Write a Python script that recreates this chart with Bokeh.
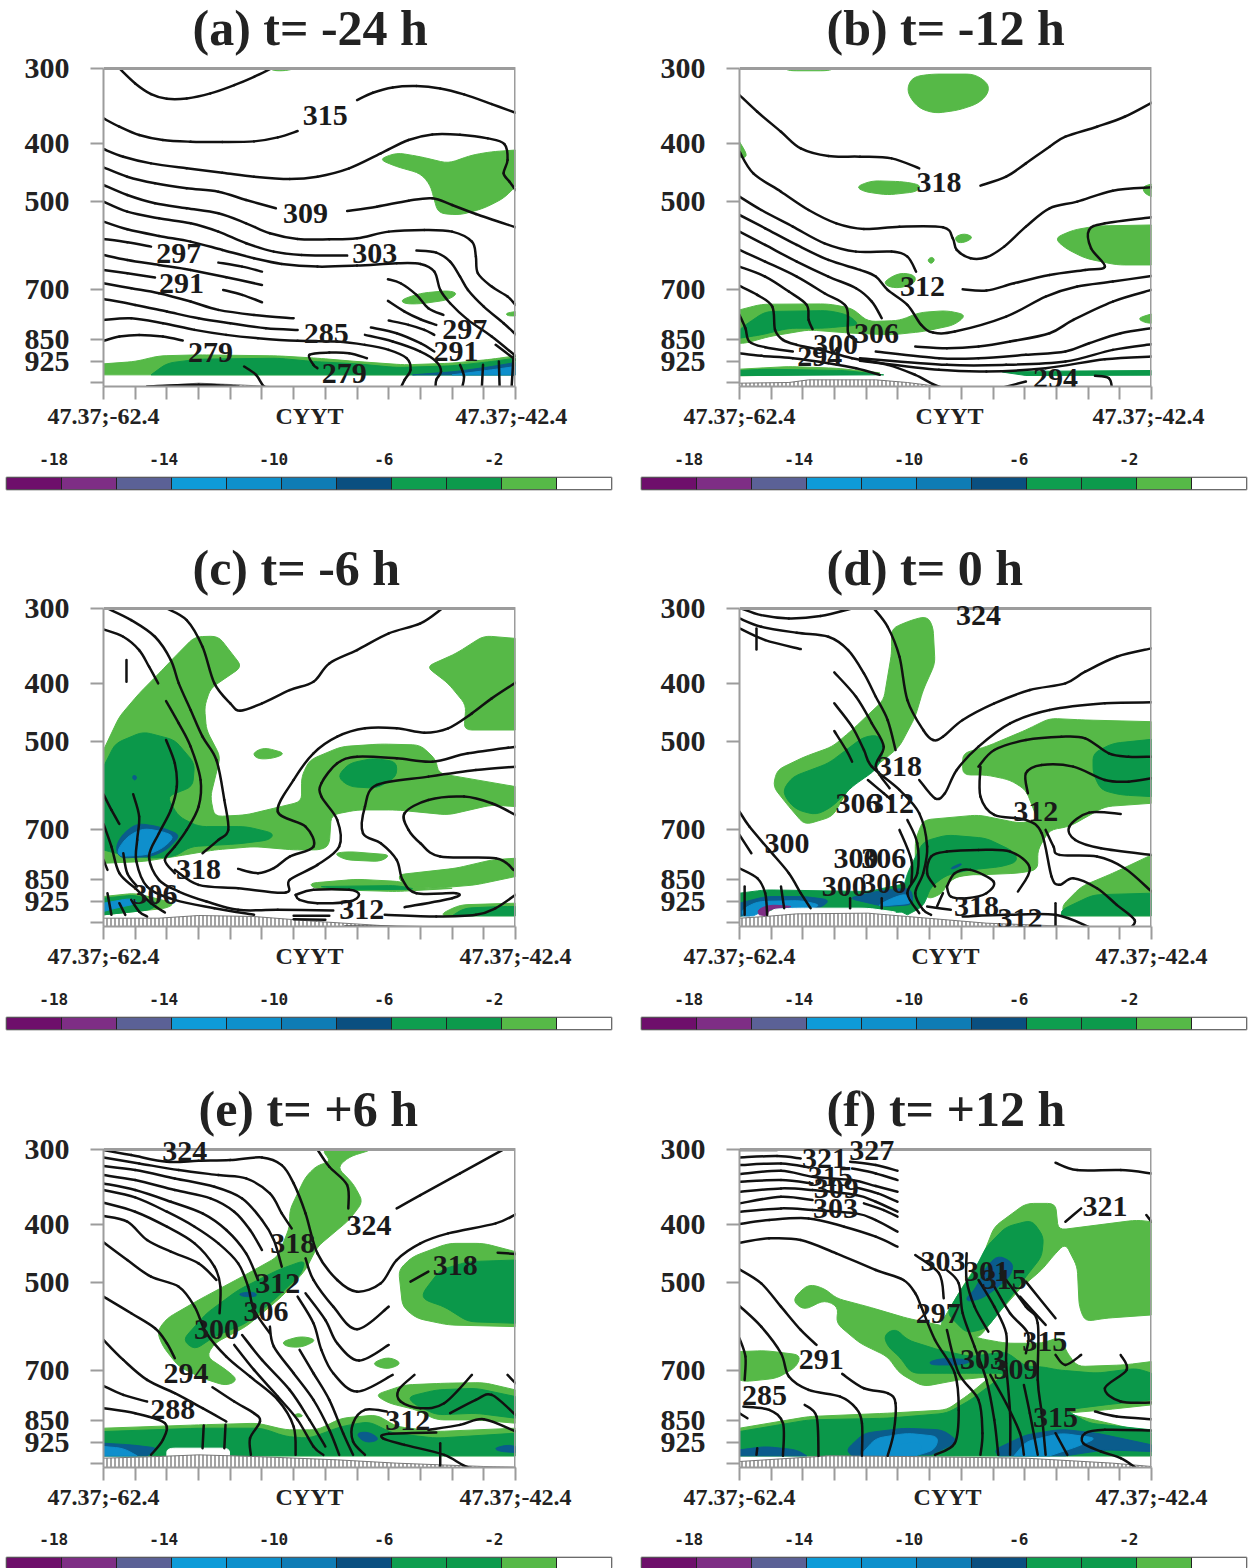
import math
from bokeh.plotting import figure
from bokeh.layouts import column, row
from bokeh.models import FixedTicker, Range1d, BasicTickFormatter, Label
from bokeh.embed import file_html
from bokeh.resources import INLINE

# Digitised field outlines: (along-section, vertical), converted to lon/hPa below.
TITLES = ["(a) t= -24 h", "(b) t= -12 h", "(c) t= -6 h", "(d) t= 0 h", "(e) t= +6 h", "(f) t= +12 h"]
TITLE_OFFSETS = [89, 87, 89, 87, 95, 87]
PRESSURE_TICKS = [300, 400, 500, 700, 850, 925, 1000]
COLOR_LEVELS = [-20, -18, -16, -14, -12, -10, -8, -6, -4, -2, 0, 2]
COLOR_BANDS = ["#6E0F6B", "#7E2E85", "#5B6196", "#0E9BD8", "#0E90CC", "#0F7CB5", "#0A4F80",
               "#0E9E4F", "#0C9A4C", "#56B947", "#FFFFFF"]
COLOR_TICKS = [-18, -14, -10, -6, -2]

A_LIGHT = [
    [(955,478),(1000,458),(1060,470),(1130,490),(1190,465),(1240,455),(1300,450),(1300,560),(1270,595),(1220,625),(1160,645),(1105,640),(1095,600),(1085,555),(1060,520),(1000,500)],
    [(680,205),(745,205),(720,212),(690,212)],
    [(1010,900),(1060,880),(1130,872),(1155,880),(1130,900),(1060,912),(1020,912)],
    [(1275,940),(1300,935),(1300,948),(1280,948)],
    [(260,1092),(340,1085),(400,1068),(500,1065),(700,1068),(800,1075),(900,1085),(1020,1095),(1140,1090),(1240,1078),(1300,1068),(1300,1125),(260,1125)],
]
A_GREEN = [[(380,1125),(420,1090),(500,1078),(700,1075),(790,1085),(900,1092),(1000,1103),(1140,1098),(1240,1085),(1300,1075),(1300,1125)]]
A_NAVY = [[(1040,1125),(1150,1115),(1240,1100),(1300,1088),(1300,1125)]]
A_BLUE = [[(1140,1125),(1240,1110),(1300,1100),(1300,1125)]]
A_WHITE = []
A_TERRAIN = [(370,1160),(500,1150),(600,1155),(680,1160)]
A_LINES = [
    [(300,205),(340,250),(380,282),(420,296),(470,295),(530,280),(590,255),(640,230),(680,207)],
    [(900,300),(940,278),(990,262),(1050,258),(1110,265),(1170,283),(1240,312),(1300,338)],
    [(260,355),(300,380),(350,405),(410,420),(480,425),(560,426),(640,424),(700,412),(750,393)],
    [(260,447),(310,470),(380,490),(470,505),(560,518),(640,530),(730,537),(800,530),(880,505),(960,460),(1030,420),(1090,403),(1160,404),(1230,415),(1272,432),(1280,480),(1270,520),(1285,545),(1300,570)],
    [(260,502),(320,530),(390,550),(470,565),(550,575),(620,600),(695,625)],
    [(875,633),(950,620),(1030,602),(1090,595),(1140,615),(1200,642),(1300,682)],
    [(260,555),(320,585),(390,610),(470,625),(550,640),(620,670),(680,700),(750,717),(830,718),(900,715),(980,695),(1070,690),(1140,695),(1190,725),(1200,770),(1205,820),(1240,860),(1280,890),(1300,915)],
    [(260,605),(320,635),(400,655),(480,670),(550,695),(620,730),(690,755),(760,765),(875,767)],
    [(1050,752),(1100,758),(1135,785),(1160,830),(1180,870),(1220,920),(1270,970),(1300,1003)],
    [(260,665),(320,688),(400,708),(480,725),(560,750),(640,775),(710,792),(800,800),(900,797),(1000,790),(1060,792),(1095,815),(1110,870),(1135,910),(1180,960),(1240,1010),(1300,1068)],
    [(260,717),(320,727),(380,740)],
    [(550,788),(610,800),(660,815)],
    [(260,765),(320,780),(400,795),(480,810),(570,832),(660,855)],
    [(260,810),(320,820),(390,833)],
    [(562,870),(610,885),(660,907)],
    [(260,850),(330,865),(400,880),(480,905),(550,930),(640,945),(740,955)],
    [(260,897),(340,915),(420,935),(500,955),(580,970),(670,985),(750,990)],
    [(260,960),(330,955),(410,970),(490,990),(570,1005),(650,1015),(750,1023),(850,1025),(920,1035),(980,1050),(1025,1075),(1035,1110),(1020,1140),(1010,1165)],
    [(260,1023),(300,1010),(350,1005),(410,1010),(460,1022)],
    [(978,838),(1010,850),(1050,885),(1080,925),(1118,945)],
    [(978,903),(1020,935),(1060,958),(1100,975)],
    [(980,962),(1030,975),(1070,990),(1095,1005)],
    [(935,983),(1000,1000),(1060,1030),(1095,1055)],
    [(920,1005),(990,1025),(1060,1055),(1100,1085),(1112,1115),(1100,1140),(1098,1165)],
    [(1250,1035),(1300,1080)],
    [(1165,1165),(1170,1130),(1160,1095)],
    [(1215,1165),(1218,1095)],
    [(1260,1165),(1258,1085)],
    [(1290,1165),(1295,1070)],
    [(800,1105),(790,1095),(780,1065),(830,1058),(880,1060),(925,1075)],
    [(615,1100),(645,1125),(665,1160),(685,1162)],
    [(370,1160),(500,1155),(600,1160)],
]
A_LABELS = [("315",820,345),("309",770,640),("297",450,762),("303",945,762),("291",457,850),("285",822,1000),("297",1172,990),("291",1150,1055),("279",530,1058),("279",868,1122)]

B_LIGHT = [
    [(700,260),(715,230),(760,222),(870,222),(905,250),(905,280),(880,310),(830,330),(770,340),(730,325),(705,290)],
    [(390,205),(515,205),(500,212),(400,212)],
    [(275,425),(295,465),(285,475),(275,470)],
    [(570,560),(610,542),(690,545),(735,555),(725,575),(650,585),(590,575)],
    [(820,710),(845,700),(868,712),(845,728),(825,728)],
    [(750,780),(762,770),(770,780),(760,793)],
    [(640,845),(680,818),(720,825),(720,850),(680,865),(650,860)],
    [(1072,715),(1120,690),(1180,678),(1318,675),(1318,795),(1230,795),(1150,775),(1100,745)],
    [(1295,560),(1318,552),(1318,590),(1300,580)],
    [(1282,955),(1318,942),(1318,970),(1300,968)],
    [(275,930),(330,913),(500,912),(560,925),(600,965),(680,962),(730,938),(800,932),(850,945),(820,975),(740,995),(660,1005),(560,1000),(450,990),(350,1010),(290,1030),(275,1030)],
    [(275,1108),(400,1100),(520,1105),(640,1120),(275,1128)],
]
B_GREEN = [
    [(290,975),(340,935),(500,932),(550,945),(580,975),(490,985),(400,985),(330,1005),(275,1015),(275,990)],
    [(275,1112),(340,1108),(540,1112),(640,1125),(275,1127)],
    [(930,1115),(1318,1112),(1318,1126),(1000,1127)],
]
B_NAVY = []
B_BLUE = []
B_WHITE = []
B_TERRAIN = [(275,1150),(400,1148),(450,1140),(620,1140),(700,1148),(780,1160)]
B_LINES = [
    [(275,285),(320,335),(380,395),(430,445),(500,468),(580,470),(660,475),(730,505)],
    [(885,557),(950,530),(1000,490),(1060,440),(1100,410),(1180,380),(1250,350),(1318,308)],
    [(275,455),(310,520),(380,575),(450,630),(520,670),(590,687),(680,680),(790,682),(815,715),(825,750),(860,775),(900,772),(945,740),(1000,680),(1060,625),(1130,605),(1220,572),(1318,562)],
    [(275,590),(330,630),(410,680),(490,730),(570,755),(660,755),(700,770),(722,815)],
    [(275,645),(340,685),(420,735),(500,780),(580,810),(620,830),(650,870),(700,915),(735,975),(765,998),(820,995),(950,950),(1050,890),(1130,860),(1220,845),(1318,828)],
    [(840,868),(900,872),(970,850),(1060,825),(1150,810),(1200,800),(1165,745),(1160,690),(1200,670),(1318,652)],
    [(275,695),(340,735),(420,785),(500,830),(570,865),(610,905),(635,955)],
    [(275,750),(340,785),(420,830),(490,880),(545,920),(550,1000),(570,1020)],
    [(275,800),(340,830),(400,875),(445,915),(450,960),(460,988)],
    [(275,858),(320,885),(358,920),(365,990),(385,1020),(420,1035),(480,1050),(560,1075),(650,1095),(720,1125),(785,1162),(860,1162)],
    [(275,945),(290,985),(300,1025),(340,1042),(410,1055)],
    [(275,1060),(330,1068),(410,1075),(500,1090),(570,1105),(630,1125)],
    [(1318,870),(1220,905),(1120,960),(1060,1000),(960,1025),(880,1040),(800,1045),(720,1040)],
    [(1318,985),(1240,1000),(1160,1030),(1100,1055),(1000,1065),(880,1075),(780,1075),(620,1055)],
    [(1318,1033),(1220,1050),(1100,1085),(950,1095),(800,1095),(580,1075)],
    [(1318,1070),(1200,1078),(1050,1105),(900,1115),(780,1110),(580,1083)],
    [(945,1162),(1000,1145)],
    [(1175,1128),(1210,1135),(1218,1165)],
]
B_LABELS = [("318",780,548),("312",738,860),("306",622,1000),("300",518,1035),("294",478,1070),("294",1075,1135)]

C_LIGHT = [
    [(260,630),(300,530),(350,460),(400,400),(440,350),(490,290),(550,288),(610,380),(530,445),(515,500),(520,570),(555,650),(530,770),(540,830),(620,825),(690,805),(760,785),(760,710),(780,660),(860,620),(960,612),(1060,615),(1100,660),(1105,700),(1300,740),(1300,800),(1240,795),(1130,825),(1000,810),(900,810),(835,825),(830,915),(810,930),(740,930),(640,920),(540,930),(440,950),(360,965),(260,970)],
    [(1075,380),(1150,340),(1220,287),(1300,295),(1300,570),(1170,570),(1175,495),(1130,430)],
    [(635,640),(665,622),(720,640),(690,655),(650,658)],
    [(840,940),(880,935),(985,945),(960,965),(870,960)],
    [(1000,1005),(1150,985),(1240,960),(1300,955),(1300,1010),(1200,1035),(1100,1045),(1020,1040)],
    [(780,1030),(900,1018),(1010,1025),(1060,1045),(1150,1045),(1000,1055),(850,1050),(790,1045)],
    [(1115,1120),(1160,1095),(1300,1090),(1300,1128),(1120,1128)],
    [(260,1070),(340,1060),(440,1090),(420,1105),(260,1125)],
]
C_GREEN = [
    [(260,680),(290,610),(360,575),(440,600),(490,670),(485,740),(420,770),(450,830),(500,860),(620,860),(690,880),(680,900),(600,912),(480,920),(440,950),(380,955),(290,940),(260,930)],
    [(850,710),(880,670),(940,655),(1000,665),(1000,710),(950,745),(880,740)],
    [(1140,1128),(1170,1105),(1260,1100),(1300,1100),(1300,1128)],
    [(260,1075),(340,1065),(400,1090),(380,1110),(260,1125)],
    [(800,1040),(1000,1037),(1050,1048),(900,1050)],
]
C_NAVY = [
    [(290,920),(310,880),(345,850),(400,860),(455,885),(420,930),(380,950),(300,955)],
    [(335,705),(345,710),(340,722),(333,715)],
]
C_BLUE = [
    [(295,930),(320,890),(360,865),(410,875),(440,890),(410,925),(370,945),(300,950)],
    [(260,1090),(330,1075),(350,1090),(290,1105),(260,1115)],
]
C_WHITE = []
C_TERRAIN = [(260,1135),(400,1135),(500,1127),(640,1130),(800,1145),(1000,1160)]
C_LINES = [
    [(270,205),(330,240),(390,290),(430,360),(450,430),(480,510),(510,590),(545,660),(565,780),(575,870),(550,900),(510,940)],
    [(420,205),(470,240),(510,320),(540,430),(580,490),(605,512),(660,490),(730,450),(790,425),(830,370),(900,330),(980,280),(1060,250),(1115,205)],
    [(260,268),(310,290),(350,330),(375,380),(398,430)],
    [(318,360),(318,425)],
    [(418,483),(450,550),(480,620),(505,720),(500,800),(470,870),(440,920),(415,960),(440,1000)],
    [(418,600),(440,670),(445,740),(430,810),(400,880),(375,950),(400,1020),(450,1055),(520,1085),(600,1110),(700,1110),(840,1112)],
    [(335,763),(350,830),(345,900),(343,965),(370,1040),(440,1080),(540,1105),(640,1125)],
    [(260,763),(280,810),(300,852)],
    [(260,852),(280,920),(300,1000),(340,1045),(380,1090),(415,1118)],
    [(260,960),(270,990)],
    [(310,940),(320,1000),(345,1040)],
    [(600,987),(650,1000),(690,985),(730,950),(790,920),(770,860),(700,815),(740,720),(790,640),(850,590),(920,565),(1000,565),(1070,578),(1130,565),(1190,520),(1240,475),(1300,428)],
    [(440,990),(500,1035),(600,1045),(720,1058),(730,1020),(800,975),(855,920),(850,840),(810,770),(810,730),(850,670),(900,650),(1000,655),(1090,665),(1180,640),(1300,620)],
    [(1300,680),(1200,690),(1080,710),(950,735),(920,800),(915,880),(960,910),(1000,960),(1015,1020),(1050,1060),(1150,1060),(1140,1075),(1020,1102)],
    [(1300,825),(1240,790),(1170,770),(1080,780),(1020,820),(1030,870),(1060,910),(1110,950),(1250,955),(1295,990)],
    [(745,1065),(790,1050),(880,1050),(905,1065),(880,1085),(800,1090),(755,1080),(745,1065)],
    [(740,1128),(830,1128)],
    [(740,1138),(820,1140)],
    [(970,1125),(1100,1130),(1200,1125),(1250,1105),(1300,1065)],
    [(330,1080),(350,1115),(370,1130)],
    [(270,1060),(280,1125)],
    [(300,1090),(315,1125)],
    [(870,1160),(1070,1162)],
]
C_LABELS = [("318",500,988),("306",390,1065),("312",912,1108)]

D_LIGHT = [
    [(660,265),(710,240),(750,228),(765,260),(770,370),(740,450),(720,530),(680,620),(640,660),(560,730),(510,830),(440,855),(400,800),(360,740),(370,690),(440,650),(510,620),(560,570),(640,480),(660,340)],
    [(840,640),(900,620),(1000,570),(1060,535),(1150,540),(1318,545),(1318,790),(1200,800),(1110,860),(1060,870),(1030,930),(1030,990),(980,1000),(880,1005),(830,1010),(800,1030),(790,1060),(750,1080),(720,1000),(720,900),(740,840),(880,825),(985,850),(1030,840),(1000,750),(960,720),(900,705),(840,705)],
    [(1090,1100),(1140,1040),(1220,1000),(1318,945),(1318,1128),(1100,1128)],
]
D_GREEN = [
    [(385,750),(410,710),(500,670),(590,590),(630,585),(640,640),(620,690),(560,740),(510,800),(470,825),(420,810),(395,780)],
    [(1170,640),(1220,610),(1318,598),(1318,770),(1240,765),(1190,750),(1170,700)],
    [(740,905),(800,885),(900,895),(970,935),(980,965),(940,980),(860,990),(800,1005),(760,1040),(740,1100),(700,1125),(675,1110),(700,1000)],
    [(275,1060),(340,1050),(600,1055),(700,1030),(730,1050),(730,1110),(680,1118),(500,1110),(350,1110),(275,1130)],
    [(1090,1110),(1170,1065),(1318,1060),(1318,1128),(1090,1128)],
]
D_NAVY = [
    [(550,1075),(640,1050),(710,1045),(715,1095),(640,1100)],
    [(275,1090),(340,1070),(440,1070),(505,1080),(480,1105),(350,1105),(300,1128),(275,1128)],
    [(808,985),(835,970),(838,975),(815,988)],
]
D_BLUE = [
    [(280,1110),(320,1085),(430,1082),(480,1095),(460,1105),(350,1105),(310,1128),(285,1128)],
    [(620,1100),(660,1075),(700,1060),(715,1090)],
]
D_WHITE = [
    [(355,1108),(420,1105),(600,1105),(680,1118),(420,1122),(355,1128)],
    [(800,1040),(820,1015),(880,1005),(918,1025),(895,1060),(850,1075),(810,1070)],
]
D_PURPLE = [[(320,1110),(350,1095),(415,1100),(350,1108),(345,1128),(325,1125)]]
D_TERRAIN = [(275,1135),(340,1130),(420,1122),(600,1120),(700,1130),(900,1150),(1160,1162)]
D_LINES = [
    [(280,205),(330,225),(400,235),(480,228),(560,205)],
    [(275,235),(330,260),(420,278),(500,290),(550,330),(590,400),(620,470),(650,540),(670,630)],
    [(615,205),(650,260),(680,350),(700,480),(740,570),(765,600),(790,590),(840,540),(920,490),(1010,450),(1100,430),(1150,395),(1230,350),(1318,325)],
    [(275,265),(340,300),(430,327)],
    [(318,265),(318,328)],
    [(515,397),(570,470),(610,550),(640,620),(620,680),(655,745)],
    [(515,490),(560,560),(590,630),(610,680),(680,750),(730,820),(750,920),(740,1000),(720,1060),(740,1110),(760,1125)],
    [(515,573),(545,630),(560,665)],
    [(600,720),(640,760),(660,780)],
    [(730,720),(770,775),(795,760),(825,690),(880,620),(960,550),(1060,510),(1200,490),(1318,487)],
    [(275,815),(300,860),(350,930),(400,1000),(430,1060),(455,1105)],
    [(275,885),(305,940)],
    [(275,985),(320,1015),(340,1060),(345,1125)],
    [(288,1040),(288,1125)],
    [(380,1040),(388,1105)],
    [(555,1075),(555,1105)],
    [(635,1075),(635,1105)],
    [(880,680),(920,630),(1000,600),(1090,590),(1150,595),(1210,640),(1260,650),(1318,650)],
    [(1005,760),(1000,700),(1040,675),(1120,680),(1200,720),(1260,725),(1318,715)],
    [(885,680),(885,770),(920,825),(1000,840),(1040,880),(1065,1010),(1085,1035),(1120,1015),(1180,1045),(1230,1095),(1275,1140),(1265,1165)],
    [(1240,822),(1160,818),(1110,860),(1125,900),(1190,925),(1318,945)],
    [(1050,870),(1070,920),(1085,945),(1180,950),(1250,985),(1318,1055)],
    [(680,870),(710,960),(710,1030)],
    [(700,840),(725,910),(725,1000),(700,1060),(730,1120)],
    [(770,1040),(750,1000),(760,950),(800,935),(880,930),(960,935),(1010,985),(980,1055)],
    [(800,1040),(820,1000),(860,990),(918,1025),(900,1060),(850,1075),(810,1070),(800,1040)],
    [(750,1100),(810,1110)],
    [(840,1130),(950,1125),(1075,1125),(1160,1162)],
    [(1075,1090),(1075,1165)],
    [(790,1060),(775,1100)],
]
D_LABELS = [("324",880,225),("318",680,680),("306",575,790),("312",660,790),("312",1025,815),("300",395,910),("300",570,955),("306",640,955),("300",540,1040),("306",640,1030),("318",875,1100),("312",985,1135)]

E_LIGHT = [
    [(810,208),(940,208),(880,230),(850,262),(890,310),(915,365),(880,420),(800,500),(770,570),(710,650),(620,740),(540,790),(520,830),(570,870),(600,900),(570,918),(510,895),(450,860),(410,800),(395,755),(420,715),(500,660),(610,590),(700,530),(730,440),(730,390),(770,290),(800,255),(835,245)],
    [(1005,570),(1040,530),(1130,490),(1220,490),(1300,515),(1300,740),(1130,735),(1050,715),(1015,680)],
    [(710,785),(760,768),(800,780),(760,803),(720,800)],
    [(940,848),(980,830),(1015,850),(980,868),(950,860)],
    [(945,945),(1020,915),(1120,910),(1220,908),(1300,930),(1300,1030),(1200,1020),(1100,1020),(1050,990),(980,970)],
    [(740,1005),(755,1000),(765,1010),(745,1012)],
    [(260,1045),(500,1035),(650,1030),(720,1050),(800,1050),(860,1015),(950,1005),(1000,1040),(1100,1055),(1300,1045),(1300,1128),(260,1128)],
]
E_GREEN = [
    [(460,780),(520,700),(600,630),(700,570),(770,540),(760,580),(700,650),(620,730),(540,770),(490,810)],
    [(1065,640),(1110,570),(1180,545),(1300,540),(1300,730),(1180,725),(1120,680),(1070,660)],
    [(1030,950),(1100,930),(1200,925),(1300,950),(1300,1015),(1200,1000),(1100,1005),(1040,970)],
    [(260,1055),(500,1045),(660,1045),(720,1070),(780,1075),(860,1040),(930,1025),(990,1060),(1100,1075),(1300,1060),(1300,1128),(260,1128)],
]
E_NAVY = [
    [(600,640),(640,635),(650,650),(610,650)],
    [(895,1060),(930,1055),(960,1080),(920,1090)],
    [(260,1090),(330,1095),(400,1105),(370,1128),(260,1128)],
    [(1245,1105),(1280,1095),(1300,1100),(1300,1118),(1260,1115)],
]
E_BLUE = [[(260,1100),(310,1105),(345,1128),(260,1128)]]
E_WHITE = [[(420,1105),(578,1105),(578,1128),(420,1128)]]
E_TERRAIN = [(260,1135),(400,1130),(500,1125),(640,1130),(850,1140),(1000,1150),(1220,1160),(1300,1162)]
E_LINES = [
    [(260,210),(330,225),(420,245),(500,242),(580,240),(660,232),(710,255),(740,310),(770,400),(800,520),(850,600),(900,635),(960,610),(1000,540),(1060,490),(1130,460),(1250,430),(1300,403)],
    [(1000,385),(1060,345),(1160,280),(1270,208)],
    [(800,208),(830,260),(875,315),(878,385)],
    [(260,232),(350,250),(450,270),(550,285),(620,295),(680,340),(710,400),(735,445)],
    [(260,258),(340,270),(440,295),(540,320),(610,355),(660,420),(690,480),(710,560)],
    [(260,285),(340,300),(440,330),(530,355),(590,395),(630,450),(660,510)],
    [(260,310),(340,330),(430,365),(510,400),(570,450),(620,520),(650,600)],
    [(260,330),(340,352),(420,395),(490,440),(550,490),(600,550),(625,620),(640,690),(680,760)],
    [(260,368),(340,395),(420,440),(490,490),(540,560),(555,620),(553,700)],
    [(260,408),(320,425),(370,480),(430,515),(500,550),(545,600)],
    [(260,487),(320,540),(380,590),(450,620),(490,680),(520,760),(570,830),(630,890),(700,960),(740,1040),(745,1125)],
    [(260,650),(330,700),(390,745),(420,790),(440,835)],
    [(260,780),(310,840),(370,900),(440,940),(510,985),(570,1025)],
    [(260,918),(310,945),(370,965)],
    [(260,985),(340,1000),(415,1030),(410,1080),(380,1125)],
    [(535,922),(590,965),(640,1000),(655,1025),(630,1075),(632,1125)],
    [(513,1037),(510,1105)],
    [(568,1035),(565,1105)],
    [(590,795),(640,870),(700,950),(750,1020),(790,1100),(815,1125)],
    [(610,765),(660,840),(730,930),(780,1020),(820,1100)],
    [(680,740),(690,800),(740,880),(790,960),(830,1050),(855,1125)],
    [(750,650),(790,730),(810,810),(840,880),(900,935),(990,885)],
    [(770,535),(790,600),(840,680),(900,748),(980,680)],
    [(770,640),(820,720),(850,790),(905,842),(980,795)],
    [(755,810),(790,880),(830,960),(865,1060),(890,1125)],
    [(975,995),(920,990),(890,1030),(890,1085),(920,1125)],
    [(1045,885),(1005,930),(1010,965),(1060,985),(1120,970),(1190,885)],
    [(1135,1000),(1200,960),(1240,945),(1300,1005)],
    [(1280,885),(1300,910)],
    [(1080,1050),(1160,1035),(1220,1018),(1300,1055)],
    [(1100,1058),(980,1062),(965,1075),(1020,1095),(1120,1125),(1190,1165),(1300,1165)],
    [(1110,1090),(1110,1165)],
    [(1255,518),(1300,522)],
    [(1035,605),(1080,575)],
]
E_LABELS = [("324",465,215),("318",738,490),("324",930,435),("318",1148,555),("312",700,610),("306",670,695),("300",545,750),("294",468,882),("288",435,990),("312",1028,1022)]

F_LIGHT = [
    [(1000,370),(1075,370),(1082,450),(1280,420),(1318,425),(1318,705),(1200,715),(1150,725),(1135,680),(1130,560),(1100,490),(1075,520),(1040,570),(990,620),(930,700),(880,775),(820,765),(780,740),(810,680),(840,620),(890,530),(920,440)],
    [(415,650),(450,612),(490,625),(520,655),(600,680),(700,715),(800,740),(880,775),(950,790),(1040,790),(1090,770),(1100,810),(1130,860),(1250,855),(1318,845),(1318,975),(1200,990),(1100,1000),(1318,1060),(1318,1128),(275,1128),(275,1045),(450,1010),(650,1000),(800,990),(860,940),(910,890),(830,900),(740,920),(680,880),(650,830),(580,790),(520,730),(525,680),(490,660),(440,690),(415,670)],
    [(275,815),(340,812),(430,825),(420,860),(370,895),(290,905),(275,900)],
]
F_GREEN = [
    [(900,500),(950,440),(1015,420),(1045,470),(1040,530),(1000,590),(950,670),(900,745),(850,760),(800,700),(830,640),(870,570)],
    [(640,765),(670,745),(700,780),(780,810),(860,830),(950,815),(1000,860),(1040,860),(1080,870),(1180,880),(1280,865),(1318,880),(1318,960),(1200,975),(1100,990),(1160,1030),(1318,1050),(1318,1128),(275,1128),(275,1055),(450,1020),(650,1015),(800,1000),(860,960),(950,880),(860,880),(780,880),(710,880),(680,830),(650,800)],
]
F_NAVY = [
    [(848,655),(870,630),(900,560),(930,525),(970,550),(960,590),(920,630),(890,655),(855,665)],
    [(755,845),(790,835),(870,840),(840,855),(760,855)],
    [(275,1128),(275,1110),(340,1100),(420,1110),(445,1128)],
    [(545,1110),(590,1060),(690,1045),(790,1050),(830,1085),(760,1125),(560,1128)],
    [(920,1110),(1000,1065),(1090,1048),(1180,1060),(1318,1095),(1318,1115),(1200,1110),(1100,1128),(930,1128)],
]
F_BLUE = [
    [(580,1128),(620,1075),(700,1060),(780,1070),(770,1110),(720,1128)],
    [(650,1128),(670,1095),(730,1085),(740,1110),(700,1128)],
    [(970,1128),(1000,1085),(1090,1060),(1180,1075),(1130,1100),(1060,1128)],
]
F_WHITE = []
F_TERRAIN = [(275,1145),(500,1128),(700,1130),(1000,1135),(1220,1150),(1318,1160)]
F_LINES = [
    [(275,210),(370,210)],
    [(275,232),(370,228),(430,235)], [(555,245),(620,255),(675,272)],
    [(275,255),(380,250),(450,262)], [(560,265),(620,280),(675,300)],
    [(275,282),(380,272),(460,290),(560,300),(620,318),(675,335)],
    [(275,305),(380,300),(460,310)], [(570,322),(625,340),(675,365)],
    [(275,335),(380,325),(460,330),(570,345),(620,365),(675,395)],
    [(275,370),(380,350),(460,360)], [(590,370),(640,390),(675,410)],
    [(275,395),(380,385),(460,390),(570,400),(620,420),(675,455)],
    [(275,432),(350,420),(450,415),(540,440),(620,470),(675,500)],
    [(275,488),(350,475),(430,480),(520,520),(620,570),(690,600),(720,640),(735,680),(770,780),(820,880),(830,990),(820,1090),(770,1125)],
    [(720,525),(780,580),(792,655)],
    [(800,570),(830,610),(840,700),(870,800),(900,900),(920,1020),(930,1125)],
    [(850,520),(850,600),(870,680),(905,755)],
    [(880,600),(920,680),(950,760),(950,850),(960,1000),(960,1125)],
    [(920,620),(960,700),(1005,760),(1000,820)],
    [(985,650),(1050,735)],
    [(1000,605),(1075,715)],
    [(950,600),(1000,680),(1030,730),(1030,900),(1040,1000),(1050,1125)],
    [(800,750),(830,880),(880,960),(890,1060),(885,1125)],
    [(910,885),(950,970),(985,1060),(995,1125)],
    [(995,915),(1010,1000),(1030,1125)],
    [(1075,1060),(1105,1125)],
    [(275,568),(330,610),(380,680),(430,750),(470,795)],
    [(275,678),(330,740),(380,820),(400,890),(450,930),(530,950),(570,985),(585,1030),(585,1128)],
    [(275,775),(290,830),(288,900)],
    [(535,882),(590,925),(650,940),(670,970),(665,1060),(650,1128)],
    [(275,1000),(295,1015)],
    [(285,980),(350,990),(385,1030),(385,1128)],
    [(440,975),(470,1010),(475,1128)],
    [(320,1105),(318,1125)],
    [(1075,825),(1100,855),(1140,825)],
    [(1240,825),(1255,870),(1200,925),(1240,965),(1318,968)],
    [(1175,995),(1230,1010),(1318,1018)],
    [(1318,1052),(1200,1050),(1150,1060),(1145,1090),(1190,1115),(1240,1135),(1280,1165)],
    [(1075,248),(1130,270),(1240,270),(1318,280)],
    [(1100,425),(1140,385)],
    [(1305,405),(1318,425)],
]
F_LABELS = [("327",610,210),("321",490,235),("315",505,290),("309",520,325),("303",518,385),("303",790,545),("301",900,575),("315",945,600),("297",778,702),("303",890,840),("309",975,868),("315",1048,785),("315",1075,1012),("291",482,838),("285",338,948),("321",1200,380)]

# Colours of the field classes
LIGHT, GREEN, NAVY, BLUE, PURPLE = "#56B947", "#0B984A", "#0A5C8C", "#0E8FCC", "#7E2E85"
GRID = "#9C9C9C"
SERIF = "Liberation Serif"

# digitising frame of each panel: left, right, top
FRAMES = [(260, 1300, 205), (275, 1318, 205), (260, 1300, 205), (275, 1318, 205), (260, 1300, 208), (275, 1318, 208)]
# where the three x labels are centred, in degrees of longitude
XLABEL_LONS = [(-62.4, -52.4, -42.6), (-62.4, -52.2, -42.55), (-62.4, -52.4, -42.4),
               (-62.4, -52.4, -42.4), (-62.4, -52.4, -42.4), (-62.4, -52.3, -42.4)]
PANELS = [
    (A_LIGHT, A_GREEN, A_NAVY, A_BLUE, [], A_WHITE, A_TERRAIN, A_LINES, A_LABELS),
    (B_LIGHT, B_GREEN, B_NAVY, B_BLUE, [], B_WHITE, B_TERRAIN, B_LINES, B_LABELS),
    (C_LIGHT, C_GREEN, C_NAVY, C_BLUE, [], C_WHITE, C_TERRAIN, C_LINES, C_LABELS),
    (D_LIGHT, D_GREEN, D_NAVY, D_BLUE, D_PURPLE, D_WHITE, D_TERRAIN, D_LINES, D_LABELS),
    (E_LIGHT, E_GREEN, E_NAVY, E_BLUE, [], E_WHITE, E_TERRAIN, E_LINES, E_LABELS),
    (F_LIGHT, F_GREEN, F_NAVY, F_BLUE, [], F_WHITE, F_TERRAIN, F_LINES, F_LABELS),
]
LON0, LON1 = -62.4, -42.4
P_TOP, P_BOTTOM = 300.0, 1017.4
FRAME_W, BOX_H = 412, 318


def soften(poly, x0, x1, r=20.0):
    """Round the corners of a traced outline, leaving vertices on the frame sharp."""
    out = []
    n = len(poly)
    for k in range(n):
        px, py = poly[k - 1]
        cx, cy = poly[k]
        nx, ny = poly[(k + 1) % n]
        if cx in (x0, x1) or cy >= 1125:
            out.append((cx, cy))
            continue
        d0 = math.hypot(px - cx, py - cy) or 1.0
        d1 = math.hypot(nx - cx, ny - cy) or 1.0
        a = min(r, d0 / 2) / d0
        b = min(r, d1 / 2) / d1
        ax, ay = cx + (px - cx) * a, cy + (py - cy) * a
        bx, by = cx + (nx - cx) * b, cy + (ny - cy) * b
        for t in (0.0, 0.25, 0.5, 0.75, 1.0):
            u = 1 - t
            out.append((u*u*ax + 2*u*t*cx + t*t*bx, u*u*ay + 2*u*t*cy + t*t*by))
    return out


def panel(i, top, bottom, left, right):
    data = PANELS[i]
    x0, x1, y0 = FRAMES[i]
    lon = lambda zx: LON0 + (zx - x0) * (LON1 - LON0) / (x1 - x0)
    hpa = lambda zy: P_TOP * math.exp((zy - y0) / 782.0)
    xs = lambda pts: [lon(a) for a, _ in pts]
    ys = lambda pts: [hpa(b) for _, b in pts]

    # The plotting frame reaches up over the title area so that title and top labels are not clipped;
    # the visible box ends at 300 hPa.
    p = figure(frame_width=FRAME_W, frame_height=BOX_H + top, y_axis_type="log", output_backend="svg",
               toolbar_location=None, x_range=Range1d(LON0, LON1), frame_align=False,
               y_range=Range1d(P_BOTTOM, P_TOP * math.exp(-top * 3 / 782.0)),
               min_border_left=left, min_border_right=right, min_border_top=0, min_border_bottom=bottom,
               background_fill_color="white", border_fill_color="white")
    p.add_layout(Label(x=TITLE_OFFSETS[i], y=BOX_H + 41, x_units="screen", y_units="screen", text=TITLES[i],
                       text_font=SERIF, text_font_style="bold", text_font_size="50px", text_color="#222222",
                       text_align="left", text_baseline="middle"))
    p.grid.visible = False
    p.outline_line_color = None

    step = (LON1 - LON0) / 13
    minor = [LON0 + k * step for k in range(14)]
    left_l, mid_l, right_l = XLABEL_LONS[i]
    p.xaxis.ticker = FixedTicker(ticks=[left_l, mid_l, right_l], minor_ticks=minor)
    p.xaxis.major_label_overrides = {left_l: "47.37;-62.4", mid_l: "CYYT", right_l: "47.37;-42.4"}
    p.xaxis.major_tick_line_color = None
    p.xaxis.major_tick_out = 0
    p.xaxis.major_tick_in = 0
    p.xaxis.minor_tick_out = 13
    p.xaxis.minor_tick_in = 0
    p.xaxis.minor_tick_line_color = GRID
    p.xaxis.minor_tick_line_width = 2
    p.xaxis.major_label_standoff = 3
    p.xaxis.major_label_text_font = SERIF
    p.xaxis.major_label_text_font_style = "bold"
    p.xaxis.major_label_text_font_size = "24px"
    p.xaxis.major_label_text_color = "#222222"
    p.xaxis.axis_line_color = GRID
    p.xaxis.axis_line_width = 2

    p.yaxis.bounds = (P_TOP, P_BOTTOM)
    p.yaxis.ticker = FixedTicker(ticks=PRESSURE_TICKS)
    p.yaxis.formatter = BasicTickFormatter()
    p.yaxis.major_label_overrides = {t: ("" if t == 1000 else str(t)) for t in PRESSURE_TICKS}
    p.yaxis.minor_tick_line_color = None
    p.yaxis.major_tick_out = 13
    p.yaxis.major_tick_in = 0
    p.yaxis.major_tick_line_color = GRID
    p.yaxis.major_tick_line_width = 2
    p.yaxis.axis_line_color = GRID
    p.yaxis.axis_line_width = 2
    p.yaxis.major_label_standoff = 21
    p.yaxis.major_label_text_font = SERIF
    p.yaxis.major_label_text_font_style = "bold"
    p.yaxis.major_label_text_font_size = "30px"
    p.yaxis.major_label_text_color = "#222222"

    for polys, col in zip(data[:6], [LIGHT, GREEN, NAVY, BLUE, PURPLE, "#FFFFFF"]):
        if polys:
            smooth = [soften(q, x0, x1) for q in polys]
            p.patches([xs(q) for q in smooth], [ys(q) for q in smooth], fill_color=col, line_color=col, line_width=1)

    terrain = data[6]
    tx = xs(terrain) + [lon(terrain[-1][0]), lon(terrain[0][0])]
    ty = ys(terrain) + [P_BOTTOM, P_BOTTOM]
    p.patch(tx, ty, fill_color="#FFFFFF", line_color="#777777", line_width=1,
            hatch_pattern="vertical_line", hatch_color="#666666", hatch_scale=4, hatch_weight=1.2)

    # contours: Bezier spans through the traced vertices
    sx0, sy0, sx1, sy1, cx0, cy0, cx1, cy1 = [], [], [], [], [], [], [], []
    for q in data[7]:
        for k in range(len(q) - 1):
            a, b = q[k], q[k + 1]
            before = q[k - 1] if k > 0 else a
            after = q[k + 2] if k + 2 < len(q) else b
            c0 = (a[0] + (b[0] - before[0]) / 6, a[1] + (b[1] - before[1]) / 6)
            c1 = (b[0] - (after[0] - a[0]) / 6, b[1] - (after[1] - a[1]) / 6)
            sx0.append(lon(a[0])); sy0.append(hpa(a[1]))
            sx1.append(lon(b[0])); sy1.append(hpa(b[1]))
            cx0.append(lon(c0[0])); cy0.append(hpa(c0[1]))
            cx1.append(lon(c1[0])); cy1.append(hpa(c1[1]))
    p.bezier(x0=sx0, y0=sy0, x1=sx1, y1=sy1, cx0=cx0, cy0=cy0, cx1=cx1, cy1=cy1,
             line_color="#111111", line_width=2.5, line_cap="round")

    # top and right edges of the box
    p.line([LON0, LON1, LON1], [P_TOP, P_TOP, P_BOTTOM], line_color=GRID, line_width=3)

    for t, a, b in data[8]:
        p.add_layout(Label(x=lon(a), y=hpa(b), text=t, text_font=SERIF, text_font_style="bold", level="overlay",
                           text_font_size="30px", text_color="#1A1A1A", text_align="center", text_baseline="middle"))
    return p


def colorbar(top, height, bottom, left, width, right):
    p = figure(frame_width=width, frame_height=height, x_axis_location="above", output_backend="svg",
               toolbar_location=None, x_range=Range1d(-20, 2), y_range=Range1d(0, 1), frame_align=False,
               min_border_left=left, min_border_right=right, min_border_top=top, min_border_bottom=bottom,
               background_fill_color="white", border_fill_color="white")
    p.grid.visible = False
    p.yaxis.visible = False
    p.outline_line_color = GRID
    p.outline_line_width = 2
    p.quad(left=COLOR_LEVELS[:-1], right=COLOR_LEVELS[1:], bottom=0, top=1, fill_color=COLOR_BANDS,
           line_color="#222222", line_width=1)
    label_pos = [t - 0.28 for t in COLOR_TICKS]
    p.xaxis.ticker = FixedTicker(ticks=label_pos)
    p.xaxis.major_label_overrides = {a: str(t) for a, t in zip(label_pos, COLOR_TICKS)}
    p.xaxis.major_tick_line_color = None
    p.xaxis.minor_tick_line_color = None
    p.xaxis.axis_line_color = None
    p.xaxis.major_tick_out = 0
    p.xaxis.major_tick_in = 0
    p.xaxis.major_label_standoff = 13
    p.xaxis.major_label_text_font = "DejaVu Sans Mono"
    p.xaxis.major_label_text_font_style = "bold"
    p.xaxis.major_label_text_font_size = "16px"
    p.xaxis.major_label_text_color = "#222222"
    return p


LEFT_COL = dict(left=103, right=116)
RIGHT_COL = dict(left=108, right=100)
rows = []
for r, (top, bottom, cb_top, cb_h, cb_bottom) in enumerate([(68, 54, 37, 12, 51), (68, 54, 37, 12, 51), (69, 53, 37, 11, 0)]):
    pa = panel(2 * r, top, bottom, **LEFT_COL)
    pb = panel(2 * r + 1, top, bottom, **RIGHT_COL)
    ca = colorbar(cb_top, cb_h, cb_bottom, 6, 605, 20)
    cb = colorbar(cb_top, cb_h, cb_bottom, 10, 605, 5)
    rows.append(row(column(pa, ca), column(pb, cb)))
page = column(*rows)

open("out.html", "w").write(file_html(page, INLINE))
